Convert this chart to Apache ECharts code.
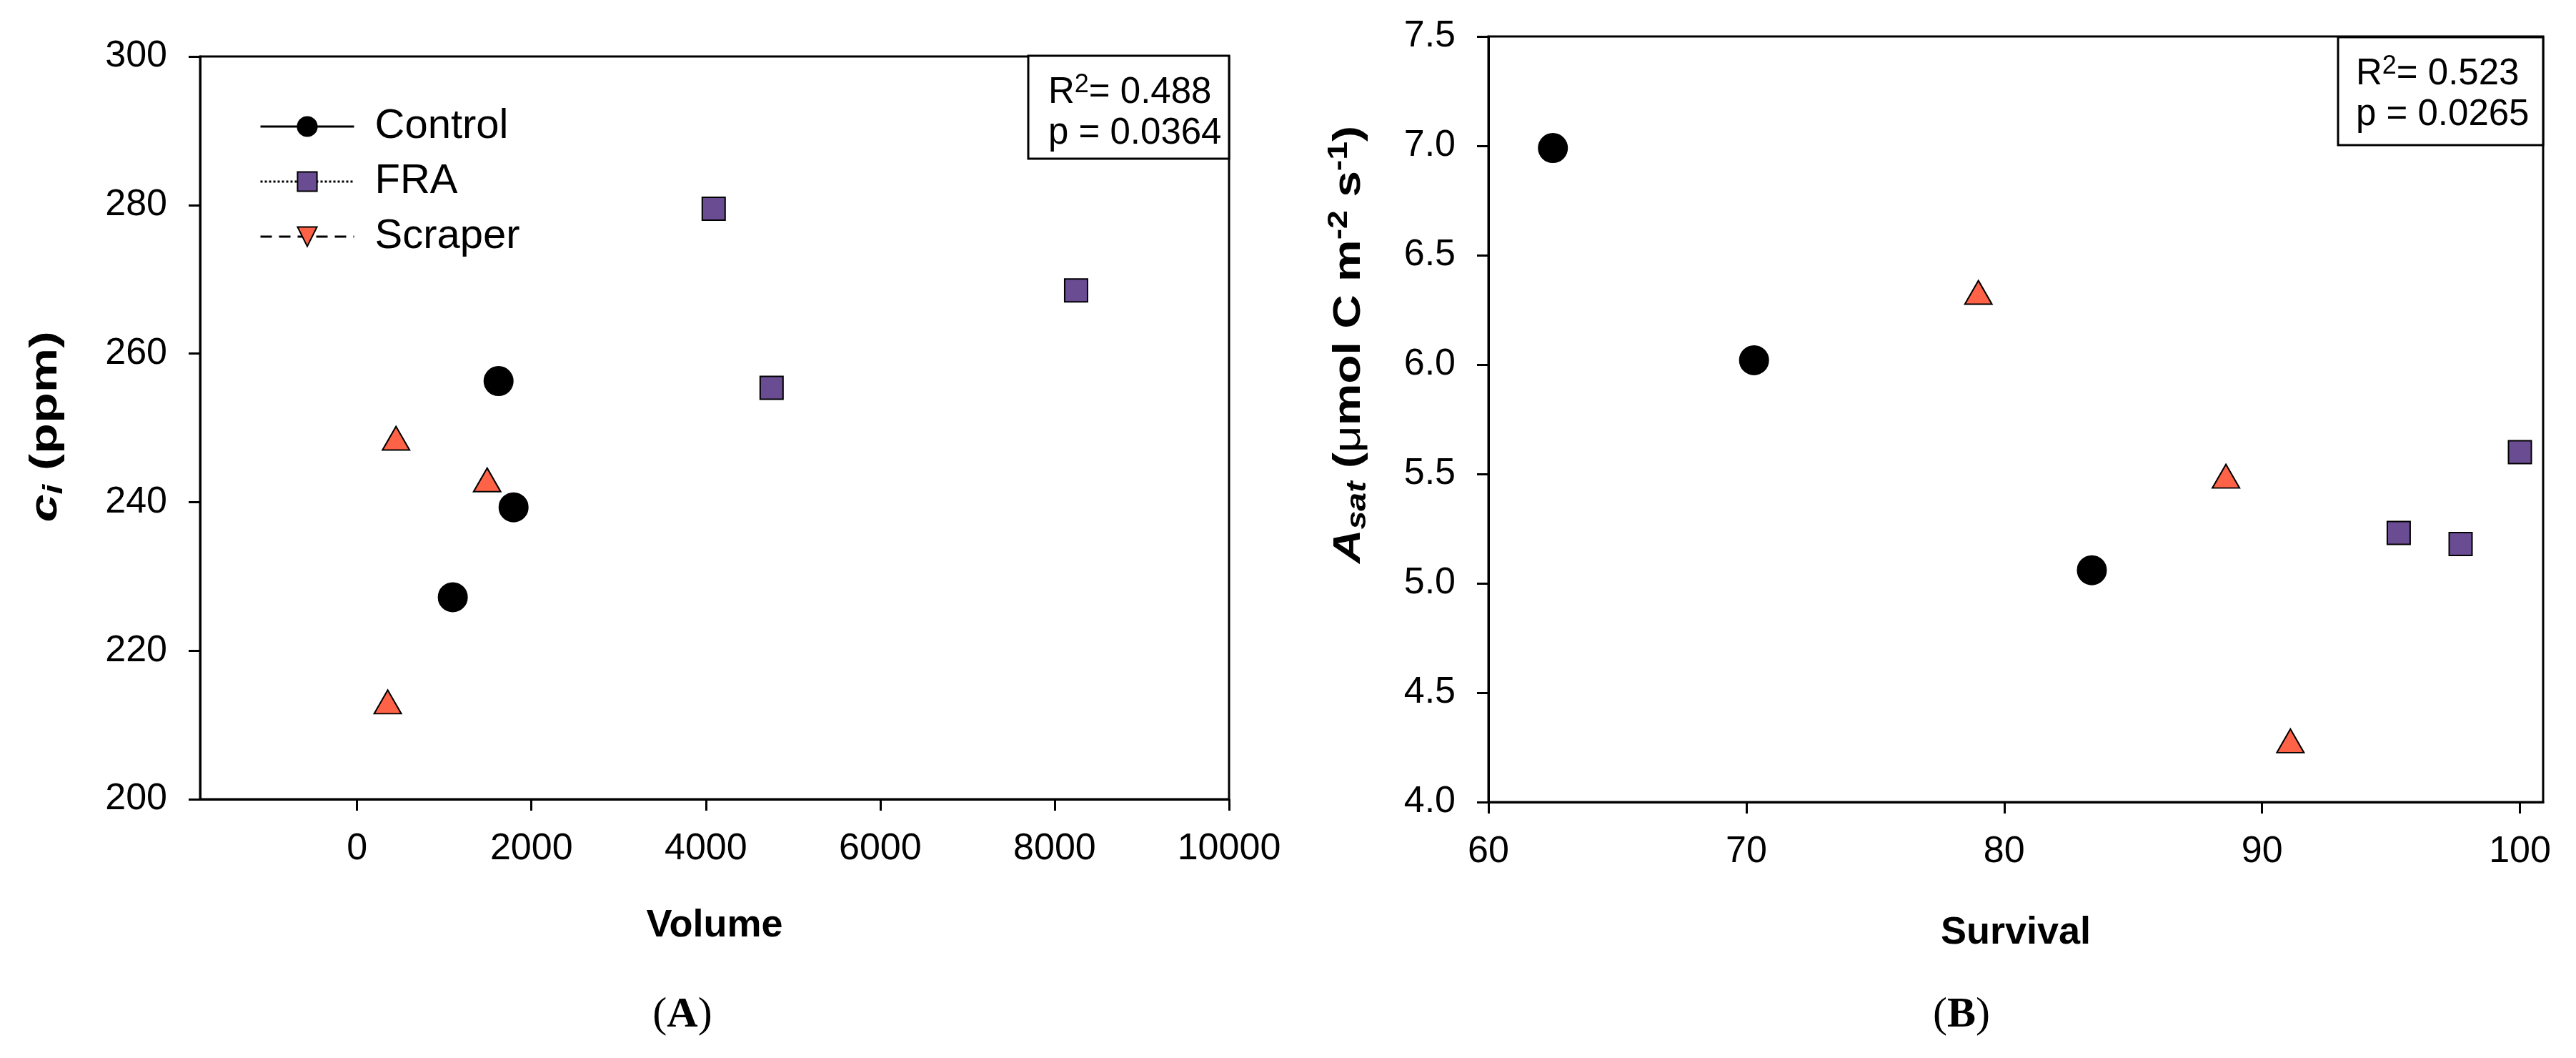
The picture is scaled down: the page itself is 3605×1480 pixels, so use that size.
<!DOCTYPE html>
<html>
<head>
<meta charset="utf-8">
<script src="https://cdn.jsdelivr.net/npm/echarts@6/dist/echarts.min.js"></script>
<style>
html,body{margin:0;padding:0;background:#ffffff;}
#chart{width:3605px;height:1480px;}
</style>
</head>
<body>
<div id="chart"></div>
<script>
// ---- Panel A data: Volume vs ci (ppm)
const volControl = [1623, 1795, 1098];
const ciControl  = [256.3, 239.3, 227.2];
const volFRA     = [4090, 4754, 8246];
const ciFRA      = [279.5, 255.4, 268.5];
const volScraper = [447, 1492, 352];
const ciScraper  = [248.6, 243.0, 213.1];

// ---- Panel B data: Survival vs Asat
const survControl = [62.5, 70.3, 83.4];
const asatControl = [6.99, 6.02, 5.06];
const survFRA     = [95.3, 97.7, 100.0];
const asatFRA     = [5.23, 5.18, 5.60];
const survScraper = [79.0, 88.6, 91.1];
const asatScraper = [6.33, 5.49, 4.28];

// ---- tick labels
const volTicks  = [0, 2000, 4000, 6000, 8000, 10000];
const ciTicks   = [200, 220, 240, 260, 280, 300];
const survTicks = [60, 70, 80, 90, 100];
const asatTicks = [4.0, 4.5, 5.0, 5.5, 6.0, 6.5, 7.0, 7.5];

const seriesNames = ['Control', 'FRA', 'Scraper'];
const statsA = ['0.488', '0.0364'];
const statsB = ['0.523', '0.0265'];

const FONT = 'Liberation Sans, Arial, sans-serif';
const pair = (xs, ys) => xs.map((x, i) => [x, ys[i]]);

const chart = echarts.init(document.getElementById('chart'), null, {renderer: 'canvas'});

const styles = {
  Control: {symbol: 'circle', symbolSize: 40, color: '#000000'},
  FRA: {symbol: 'rect', symbolSize: 32, color: '#6a4c93'},
  Scraper: {symbol: 'triangle', symbolSize: [38, 33], color: '#ff6347'}
};

function mkSeries(name, xIdx, data) {
  const s = styles[name];
  return {
    name: name, type: 'line', xAxisIndex: xIdx, yAxisIndex: xIdx,
    data: data, symbol: s.symbol, symbolSize: s.symbolSize, showSymbol: true,
    lineStyle: {color: '#000', width: 3, opacity: 0},
    itemStyle: {color: s.color, borderColor: '#000', borderWidth: 2, opacity: 1},
    emphasis: {disabled: true}, animation: false, z: 5
  };
}

function xAxis(gridIndex, min, max, ticks, name, gap) {
  return {
    type: 'value', gridIndex: gridIndex, min: min, max: max,
    name: name, nameLocation: 'middle', nameGap: gap,
    nameTextStyle: {fontFamily: FONT, fontWeight: 'bold', fontSize: 54, color: '#000'},
    axisLine: {onZero: false, lineStyle: {color: '#000', width: 3}},
    axisTick: {show: true, inside: false, length: 16, lineStyle: {color: '#000', width: 3}, customValues: ticks},
    axisLabel: {fontFamily: FONT, fontSize: 52, color: '#000', margin: 44, customValues: ticks, formatter: v => String(v)},
    splitLine: {show: false}
  };
}
function yAxis(gridIndex, min, max, interval, ticks, fmt) {
  return {
    type: 'value', gridIndex: gridIndex, min: min, max: max, interval: interval,
    axisLine: {onZero: false, lineStyle: {color: '#000', width: 3}},
    axisTick: {show: true, inside: false, length: 16, lineStyle: {color: '#000', width: 3}, customValues: ticks},
    axisLabel: {fontFamily: FONT, fontSize: 52, color: '#000', margin: 46, formatter: fmt, customValues: ticks},
    splitLine: {show: false}
  };
}

const richBase = {
  b: {fontFamily: FONT, fontWeight: 'bold', fontSize: 54, color: '#000', lineHeight: 64},
  bi: {fontFamily: FONT, fontWeight: 'bold', fontStyle: 'italic', fontSize: 54, color: '#000', lineHeight: 64},
  sub: {fontFamily: FONT, fontWeight: 'bold', fontStyle: 'italic', fontSize: 38, color: '#000', lineHeight: 18, verticalAlign: 'bottom'},
  sup: {fontFamily: FONT, fontWeight: 'bold', fontSize: 38, color: '#000', lineHeight: 18, verticalAlign: 'top'},
  mu: {fontFamily: FONT, fontSize: 54, color: '#000', lineHeight: 64}
};
const richStat = {
  n: {fontFamily: FONT, fontSize: 51, color: '#000', lineHeight: 57},
  s: {fontFamily: FONT, fontSize: 36, color: '#000', lineHeight: 20, verticalAlign: 'top'}
};

function statBox(x, y, w, h, tx, ty, stats) {
  return {
    type: 'group', children: [
      {type: 'rect', shape: {x: x, y: y, width: w, height: h}, style: {fill: '#fff', stroke: '#000', lineWidth: 3}, z: 10},
      {type: 'text', x: tx, y: ty, z: 11, style: {
        text: '{n|R}{s|2}{n|= ' + stats[0] + '}', rich: richStat, align: 'left', verticalAlign: 'middle'}},
      {type: 'text', x: tx, y: ty + 57, z: 11, style: {
        text: '{n|p = ' + stats[1] + '}', rich: richStat, align: 'left', verticalAlign: 'middle'}}
    ]
  };
}

const option = {
  backgroundColor: '#ffffff',
  animation: false,
  grid: [
    {left: 280, top: 79, width: 1440, height: 1039, show: true, borderColor: '#000', borderWidth: 3, backgroundColor: 'transparent'},
    {left: 2083, top: 51, width: 1476, height: 1071, show: true, borderColor: '#000', borderWidth: 3, backgroundColor: 'transparent'}
  ],
  xAxis: [
    xAxis(0, -1800, 10000, volTicks, 'Volume', 150),
    xAxis(1, 60, 100.9, survTicks, 'Survival', 156)
  ],
  yAxis: [
    yAxis(0, 200, 300, 20, ciTicks, v => String(v)),
    yAxis(1, 4, 7.5, 0.5, asatTicks, v => v.toFixed(1))
  ],
  legend: {
    show: true, orient: 'vertical', left: 358, top: 143,
    itemWidth: 131, itemHeight: 34, itemGap: 19,
    textStyle: {fontFamily: FONT, fontSize: 58, color: '#000', padding: [0, 0, 0, 24]},
    data: [
      {name: 'Control', lineStyle: {type: 'solid', width: 3, color: '#000', opacity: 1}},
      {name: 'FRA', lineStyle: {type: 'dotted', width: 3, color: '#000', opacity: 1}},
      {name: 'Scraper', lineStyle: {type: [16, 10], width: 3, color: '#000', opacity: 1}, symbolRotate: 180}
    ],
    selectedMode: false
  },
  series: [
    mkSeries('Control', 0, pair(volControl, ciControl)),
    mkSeries('FRA', 0, pair(volFRA, ciFRA)),
    mkSeries('Scraper', 0, pair(volScraper, ciScraper)),
    Object.assign(mkSeries('Control', 1, pair(survControl, asatControl)), {name: 'Control '}),
    Object.assign(mkSeries('FRA', 1, pair(survFRA, asatFRA)), {name: 'FRA '}),
    Object.assign(mkSeries('Scraper', 1, pair(survScraper, asatScraper)), {name: 'Scraper '})
  ],
  graphic: [
    statBox(1439, 78, 281, 144, 1467, 130, statsA),
    statBox(3272, 52, 287, 151, 3297, 104, statsB),
    {type: 'text', x: 64, y: 597, rotation: Math.PI / 2, scaleX: 1.3, style: {
      text: '{bi|c}{sub|i}{b| (ppm)}', rich: richBase, align: 'center', verticalAlign: 'middle'}},
    {type: 'text', x: 1888, y: 482, rotation: Math.PI / 2, scaleX: 1.22, style: {
      text: '{bi|A}{sub|sat}{b| (}{mu|\u03bc}{b|mol C m}{sup|-2}{b| s}{sup|-1}{b|)}', rich: richBase, align: 'center', verticalAlign: 'middle'}},
    {type: 'text', x: 955, y: 1420, style: {
      text: '{p|(}{a|A}{p|)}', align: 'center', verticalAlign: 'middle',
      rich: {p: {fontFamily: 'Liberation Serif, Times New Roman, serif', fontSize: 60, color: '#000'},
             a: {fontFamily: 'Liberation Serif, Times New Roman, serif', fontSize: 60, fontWeight: 'bold', color: '#000'}}}},
    {type: 'text', x: 2745, y: 1420, style: {
      text: '{p|(}{a|B}{p|)}', align: 'center', verticalAlign: 'middle',
      rich: {p: {fontFamily: 'Liberation Serif, Times New Roman, serif', fontSize: 60, color: '#000'},
             a: {fontFamily: 'Liberation Serif, Times New Roman, serif', fontSize: 60, fontWeight: 'bold', color: '#000'}}}}
  ]
};
chart.setOption(option);
</script>
</body>
</html>
